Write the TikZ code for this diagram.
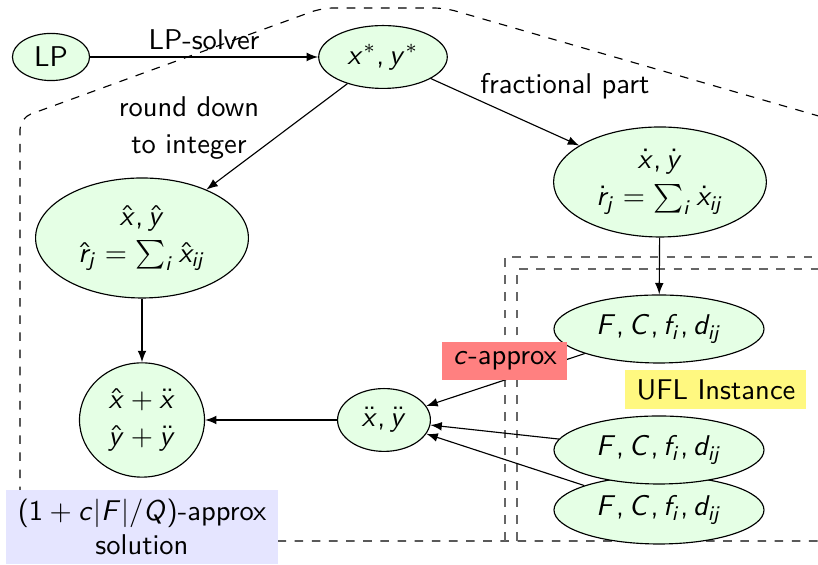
\documentclass[tikz,border=0pt]{standalone}
\usetikzlibrary{shapes.geometric,arrows}
\SetSymbolFont{operators}{normal}{OT1}{cmss}{m}{n}
\SetSymbolFont{letters}{normal}{OT1}{cmss}{m}{sl}
\DeclareMathSymbol{,}{\mathpunct}{operators}{`,}
\DeclareMathSymbol{/}{\mathord}{operators}{`/}
\begin{document}
\sffamily
\begin{tikzpicture}[x=0.35pt,y=-0.35pt,>=latex,
  st/.style={ellipse,draw,fill=green!10,inner sep=0pt,align=center},
  fbox/.style={ellipse,draw,fill=green!10,inner sep=0pt,minimum width=73.5pt,minimum height=23.8pt},
  tag/.style={inner sep=0pt,align=center},
  inner/.style={dashed,draw=black!60,line width=0.5pt}]
\useasboundingbox (0,0) rectangle (818,565);
\begin{scope}
\clip (0,0) rectangle (818,565);
\draw[dashed,rounded corners=4pt] (20,541) -- (20,118) -- (322,8) -- (445,8) -- (860,128) -- (860,541) -- cycle;
\draw[inner] (505,541) -- (505,257) -- (860,257);
\draw[inner] (517,541) -- (517,269) -- (860,269);
\end{scope}
\node[st,minimum width=27pt,minimum height=16.5pt] (lp) at (51,57) {LP};
\node[st,minimum width=45pt,minimum height=22pt] (xs) at (383,57) {$x^*,y^*$};
\node[st,minimum width=74.5pt,minimum height=42pt] (hat) at (142,238) {$\hat x,\hat y$\\[1pt]$\hat r_j=\sum_i\hat x_{ij}$};
\node[st,minimum width=74.5pt,minimum height=38.5pt] (dot) at (660,182) {$\dot x,\dot y$\\[1pt]$\dot r_j=\sum_i\dot x_{ij}$};
\node[st,minimum width=43.75pt,minimum height=40pt] (sum) at (142,420) {$\hat x+\ddot x$\\[1pt]$\hat y+\ddot y$};
\node[st,minimum width=32.5pt,minimum height=22pt] (dd) at (384,420) {$\ddot x,\ddot y$};
\node[fbox] (f1) at (659,329) {$F,C,f_i,d_{ij}$};
\node[fbox] (f3) at (659,510) {$F,C,f_i,d_{ij}$};
\node[fbox] (f2) at (659,450) {$F,C,f_i,d_{ij}$};
\draw[->] (lp) -- (xs);
\draw[->] (xs) -- (hat);
\draw[->] (xs) -- (dot);
\draw[->] (dot) -- (f1);
\draw[->] (hat) -- (sum);
\draw[->] (dd) -- (sum);
\draw[->] (f1) -- (dd);
\draw[->] (f2) -- (dd);
\draw[->] (f3) -- (dd);
\node[tag] (lps) at (204,40) {LP-solver};
\node[tag] (rd) at (189,128) {round down\\[1pt]to integer};
\node[tag] (fp) at (565,86) {fractional part};
\node[tag,fill=red!50,minimum width=43.75pt,minimum height=13.3pt] (ca) at (505,361) {$c$-approx};
\node[tag,fill=yellow!50,minimum width=63.35pt,minimum height=13.65pt] (ufl) at (716,390) {UFL Instance};
\node[tag,fill=blue!10,minimum width=95.5pt,minimum height=26pt] (sol) at (142,527) {$(1+c|F|/Q)$-approx\\solution};
\end{tikzpicture}
\end{document}
